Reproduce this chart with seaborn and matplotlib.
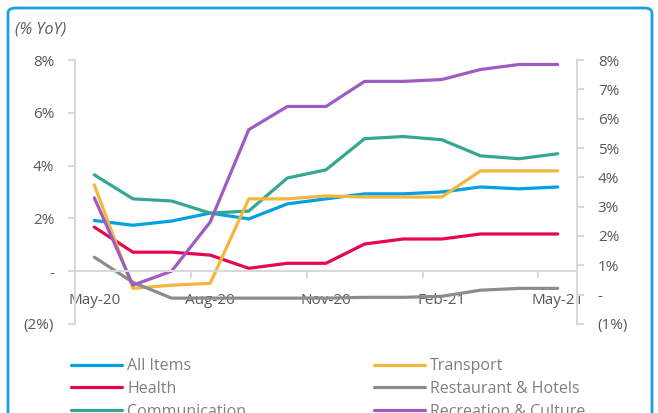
import matplotlib
matplotlib.use("Agg")
import matplotlib.pyplot as plt
from matplotlib.patches import FancyBboxPatch
import pandas as pd
import seaborn as sns

months = ["May-20", "Jun-20", "Jul-20", "Aug-20", "Sep-20", "Oct-20", "Nov-20",
          "Dec-20", "Jan-21", "Feb-21", "Mar-21", "Apr-21", "May-21"]
all_items = [1.92, 1.74, 1.90, 2.20, 1.98, 2.55, 2.74, 2.93, 2.93, 3.00, 3.19, 3.12, 3.19]
health = [1.67, 0.72, 0.72, 0.61, 0.11, 0.30, 0.30, 1.03, 1.22, 1.22, 1.41, 1.41, 1.41]
communication = [3.65, 2.74, 2.66, 2.20, 2.28, 3.53, 3.84, 5.02, 5.10, 4.98, 4.37, 4.26, 4.45]
transport = [3.27, -0.65, -0.53, -0.46, 2.74, 2.74, 2.85, 2.81, 2.81, 2.81, 3.80, 3.80, 3.80]
restaurant = [0.53, -0.42, -1.02, -1.02, -1.02, -1.02, -1.02, -0.99, -0.99, -0.95, -0.72, -0.65, -0.65]
recreation = [2.78, -0.53, 0.00, 1.86, 5.36, 6.24, 6.24, 7.19, 7.19, 7.26, 7.64, 7.83, 7.83]

series = {
    "All Items": (all_items, "#00A0E3"),
    "Health": (health, "#E8074F"),
    "Communication": (communication, "#35A692"),
    "Transport": (transport, "#F4B63C"),
    "Restaurant & Hotels": (restaurant, "#8C8C8C"),
    "Recreation & Culture": (recreation, "#9E5BC4"),
}

sns.set_style("white")
plt.rcParams["font.family"] = ["Open Sans", "DejaVu Sans"]

fig = plt.figure(figsize=(6.58, 4.13), dpi=100)
ax = fig.add_axes([75 / 658, 1 - 324 / 413, 502 / 658, 264 / 413])

x = list(range(len(months)))
for name, (vals, col) in series.items():
    df = pd.DataFrame({"x": x, "y": vals})
    sns.lineplot(data=df, x="x", y="y", ax=ax, color=col, linewidth=2.3, label=name, legend=False)

tick_col = "#595959"
axis_col = "#D9D9D9"
ax.set_xlim(-0.5, 12.5)
ax.set_ylim(-2, 8)
ax.set_yticks([-2, 0, 2, 4, 6, 8])
ax.set_yticklabels(["(2%)", "-", "2%", "4%", "6%", "8%"])
ax.set_xticks([0, 3, 6, 9, 12])
ax.set_xticklabels([months[i] for i in [0, 3, 6, 9, 12]])
ax.set_xticks([2.5, 5.5, 8.5, 11.5], minor=True)
ax.set_xlabel("")
ax.set_ylabel("")

for s in ["top", "right"]:
    ax.spines[s].set_visible(False)
ax.spines["left"].set_color(axis_col)
ax.spines["left"].set_linewidth(1.5)
ax.spines["bottom"].set_position(("data", 0))
ax.spines["bottom"].set_color(axis_col)
ax.spines["bottom"].set_linewidth(1.5)
ax.tick_params(axis="y", colors=axis_col, labelcolor=tick_col, labelsize=11,
               direction="out", length=5, width=1.5, left=True, pad=10)
ax.tick_params(axis="x", which="major", length=0, labelcolor=tick_col, labelsize=11, pad=16)
ax.tick_params(axis="x", which="minor", colors=axis_col, direction="out", length=5, width=1.5, bottom=True)

ax2 = ax.twinx()
ax2.set_ylim(-1, 8)
ax2.set_yticks(range(-1, 9))
ax2.set_yticklabels(["(1%)", "-"] + [f"{i}%" for i in range(1, 9)])
for s in ["top", "left", "bottom"]:
    ax2.spines[s].set_visible(False)
ax2.spines["right"].set_color(axis_col)
ax2.spines["right"].set_linewidth(1.5)
ax2.tick_params(axis="y", colors=axis_col, labelcolor=tick_col, labelsize=11,
                direction="out", length=5, width=1.5, right=True, pad=10)

fig.text(15 / 658, 1 - 30 / 413, "(% YoY)", fontsize=11.5, style="italic",
         color=tick_col, va="center", ha="left")

handles, labels = ax.get_legend_handles_labels()
leg = fig.legend(handles, labels, ncol=2, loc="upper left",
                 bbox_to_anchor=(57 / 658, 1 - 344 / 413), frameon=False,
                 fontsize=11.5, handlelength=3.2, columnspacing=8.0,
                 labelspacing=0.42, handletextpad=0.3, labelcolor="#7F7F7F")

fig.patches.append(FancyBboxPatch((8 / 658, -0.05), 644 / 658, 1 - 8 / 413 + 0.05,
                                  boxstyle="round,pad=0,rounding_size=0.012",
                                  transform=fig.transFigure, fill=False,
                                  edgecolor="#1BA1E2", linewidth=2))

fig.savefig("out.png", dpi=100)
